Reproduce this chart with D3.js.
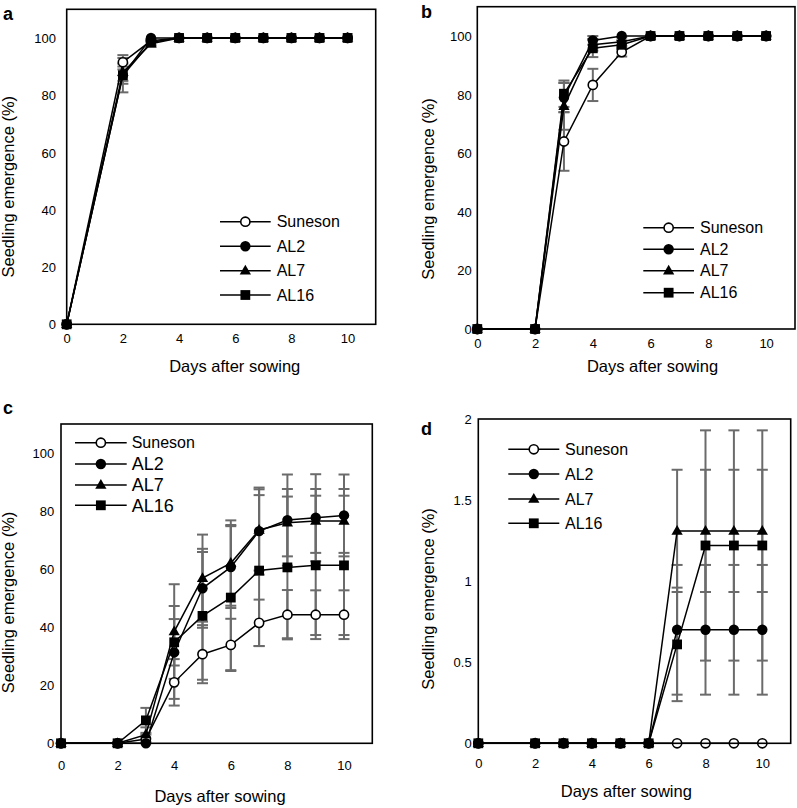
<!DOCTYPE html>
<html>
<head>
<meta charset="utf-8">
<script src="https://cdn.jsdelivr.net/npm/d3@7"></script>
<style>
  html, body { margin: 0; padding: 0; background: #fff; }
  svg { display: block; font-family: "Liberation Sans", Arial, sans-serif; }
</style>
</head>
<body>
<svg id="chart" width="797" height="808"></svg>
<script>
// ---------------- DATA ----------------
const days = [0, 2, 3, 4, 5, 6, 7, 8, 9, 10];
const seriesNames = ["Suneson", "AL2", "AL7", "AL16"];
const xTicks = [0, 2, 4, 6, 8, 10];
const yTicksPct = [0, 20, 40, 60, 80, 100];
const yTicksD = [0, 0.5, 1, 1.5, 2];
const yTickLabelsD = ["0", "0.5", "1", "1.5", "2"];
const panelLetters = ["a", "b", "c", "d"];
const xTitle = "Days after sowing";
const yTitle = "Seedling emergence (%)";

// Panel a
const sunesonA = [0, 91.5, 99, 100, 100, 100, 100, 100, 100, 100];
const sunesonAErr = [0, 2.5, 0.5, 0, 0, 0, 0, 0, 0, 0];
const al2A = [0, 87, 100, 100, 100, 100, 100, 100, 100, 100];
const al2AErr = [0, 3, 0, 0, 0, 0, 0, 0, 0, 0];
const al7A = [0, 88, 98, 100, 100, 100, 100, 100, 100, 100];
const al7AErr = [0, 3, 1, 0, 0, 0, 0, 0, 0, 0];
const al16A = [0, 87, 98.5, 100, 100, 100, 100, 100, 100, 100];
const al16AErr = [0, 6, 1, 0, 0, 0, 0, 0, 0, 0];

// Panel b
const sunesonB = [0, 0, 64, 83.3, 94.5, 100, 100, 100, 100, 100];
const sunesonBErr = [0, 0, 10, 5.5, 1.5, 0, 0, 0, 0, 0];
const al2B = [0, 0, 79, 98.5, 100, 100, 100, 100, 100, 100];
const al2BErr = [0, 0, 5, 1.5, 0, 0, 0, 0, 0, 0];
const al7B = [0, 0, 76, 97, 98, 100, 100, 100, 100, 100];
const al7BErr = [0, 0, 8, 2, 1.5, 0, 0, 0, 0, 0];
const al16B = [0, 0, 80.3, 95.8, 97, 100, 100, 100, 100, 100];
const al16BErr = [0, 0, 4.5, 3, 1.5, 0, 0, 0, 0, 0];

// Panel c
const sunesonC = [0, 0, 1.5, 21, 30.7, 33.9, 41.5, 44.3, 44.3, 44.3];
const sunesonCErr = [0, 0, 1.5, 8, 10, 9, 8, 8.5, 8.4, 8.4];
const al2C = [0, 0, 0, 31.3, 53.4, 60.7, 73.1, 76.9, 77.7, 78.5];
const al2CErr = [0, 0, 0, 16, 13.6, 14.1, 15, 15.7, 15, 14.1];
const al7C = [0, 0, 3, 38.5, 56.9, 62.1, 73.5, 76, 76.6, 76.6];
const al7CErr = [0, 0, 2.5, 16.3, 15, 14.7, 14, 11.6, 11, 11];
const al16C = [0, 0, 7.9, 34.8, 43.9, 50.2, 59.5, 60.6, 61.3, 61.3];
const al16CErr = [0, 0, 4.3, 8, 22, 25, 26, 24.4, 24, 24];

// Panel d
const sunesonD = [0, 0, 0, 0, 0, 0, 0, 0, 0, 0];
const sunesonDErr = [0, 0, 0, 0, 0, 0, 0, 0, 0, 0];
const al2D = [0, 0, 0, 0, 0, 0, 0.70, 0.70, 0.70, 0.70];
const al2DErr = [0, 0, 0, 0, 0, 0, 0.40, 0.40, 0.40, 0.40];
const al7D = [0, 0, 0, 0, 0, 0, 1.31, 1.31, 1.31, 1.31];
const al7DErr = [0, 0, 0, 0, 0, 0, 0.377, 0.377, 0.377, 0.377];
const al16D = [0, 0, 0, 0, 0, 0, 0.61, 1.22, 1.22, 1.22];
const al16DErr = [0, 0, 0, 0, 0, 0, 0.35, 0.71, 0.71, 0.71];

// ---------------- LAYOUT ----------------
const panels = [
  { letter: panelLetters[0], box: { l: 66.7, t: 9.3, r: 375.7, b: 324.3 }, yMax: 110,
    yTicks: yTicksPct, yLabels: yTicksPct.map(String),
    values: [sunesonA, al2A, al7A, al16A], errs: [sunesonAErr, al2AErr, al7AErr, al16AErr],
    yPad: 10.7, xLabBase: 343.5, letterPos: [3, 19.5],
    xTitlePos: [234.7, 371.5], yTitlePos: [14, 186.7],
    legend: { x1: 220, x2: 270.7, tx: 276.7, ys: [221.7, 246.2, 270.7, 295], sizes: [16, 16, 16, 16] } },
  { letter: panelLetters[1], box: { l: 477.3, t: 6.7, r: 795, b: 329 }, yMax: 110,
    yTicks: yTicksPct, yLabels: yTicksPct.map(String),
    values: [sunesonB, al2B, al7B, al16B], errs: [sunesonBErr, al2BErr, al7BErr, al16BErr],
    yPad: 5.6, xLabBase: 348.3, letterPos: [421, 18.3],
    xTitlePos: [652.5, 371.5], yTitlePos: [434, 189],
    legend: { x1: 643.3, x2: 694, tx: 700, ys: [227.7, 249.3, 270.7, 292.7], sizes: [16, 16, 16, 16] } },
  { letter: panelLetters[2], box: { l: 61, t: 424, r: 372.3, b: 743.3 }, yMax: 110,
    yTicks: yTicksPct, yLabels: yTicksPct.map(String),
    values: [sunesonC, al2C, al7C, al16C], errs: [sunesonCErr, al2CErr, al7CErr, al16CErr],
    yPad: 6.7, xLabBase: 770, letterPos: [3, 413.5],
    xTitlePos: [220, 801.5], yTitlePos: [14, 602.5],
    legend: { x1: 75, x2: 126.7, tx: 131.7, ys: [442.7, 464, 485, 505.3], sizes: [16, 18, 18, 18] } },
  { letter: panelLetters[3], box: { l: 478.3, t: 419, r: 790.7, b: 743.3 }, yMax: 2,
    yTicks: yTicksD, yLabels: yTickLabelsD,
    values: [sunesonD, al2D, al7D, al16D], errs: [sunesonDErr, al2DErr, al7DErr, al16DErr],
    yPad: 6.7, xLabBase: 768.3, letterPos: [421, 435],
    xTitlePos: [626.3, 796.5], yTitlePos: [434, 599],
    legend: { x1: 508.3, x2: 559.3, tx: 565, ys: [449.3, 474, 499, 523.3], sizes: [16, 16, 16, 16] } }
];

const svg = d3.select("#chart");
const errColor = "#6b6b6b";

function drawMarker(g, k, cx, cy) {
  if (k === 0) {
    g.append("circle").attr("cx", cx).attr("cy", cy).attr("r", 4.6)
      .attr("fill", "#fff").attr("stroke", "#000").attr("stroke-width", 1.6);
  } else if (k === 1) {
    g.append("circle").attr("cx", cx).attr("cy", cy).attr("r", 5.2).attr("fill", "#000");
  } else if (k === 2) {
    g.append("path").attr("d", d3.symbol(d3.symbolTriangle, 55)())
      .attr("transform", `translate(${cx},${cy + 0.5})`).attr("fill", "#000");
  } else {
    g.append("path").attr("d", d3.symbol(d3.symbolSquare, 96)())
      .attr("transform", `translate(${cx},${cy})`).attr("fill", "#000");
  }
}

panels.forEach(p => {
  const g = svg.append("g");
  const x = d3.scaleLinear().domain([0, 11]).range([p.box.l, p.box.r]);
  const y = d3.scaleLinear().domain([0, p.yMax]).range([p.box.b, p.box.t]);
  if (p.yMax === 2) y.domain([0, 2]).range([p.box.b, p.box.t]);

  // axes (labels only)
  const yAxis = g.append("g").attr("transform", `translate(${p.box.l},0)`)
    .call(d3.axisLeft(y).tickValues(p.yTicks).tickFormat((d, i) => p.yLabels[i])
      .tickSize(0).tickPadding(p.yPad));
  yAxis.select(".domain").remove();
  yAxis.selectAll("text").attr("font-size", 13).attr("font-family", "Liberation Sans, Arial, sans-serif")
    .attr("fill", "#000").attr("dy", "0.35em");

  const xAxis = g.append("g").attr("transform", `translate(0,${p.box.b})`)
    .call(d3.axisBottom(x).tickValues(xTicks).tickSize(0));
  xAxis.select(".domain").remove();
  xAxis.selectAll("text").attr("font-size", 13).attr("font-family", "Liberation Sans, Arial, sans-serif")
    .attr("fill", "#000").attr("dy", null).attr("y", p.xLabBase - p.box.b);

  // titles
  g.append("text").attr("x", p.xTitlePos[0]).attr("y", p.xTitlePos[1])
    .attr("text-anchor", "middle").attr("font-size", 16.5).text(xTitle);
  g.append("text").attr("transform", `translate(${p.yTitlePos[0]},${p.yTitlePos[1]}) rotate(-90)`)
    .attr("text-anchor", "middle").attr("font-size", 16.5).text(yTitle);
  g.append("text").attr("x", p.letterPos[0]).attr("y", p.letterPos[1])
    .attr("font-size", 18).attr("font-weight", "bold").text(p.letter);

  // error bars
  const eb = g.append("g");
  p.values.forEach((vals, k) => {
    vals.forEach((v, i) => {
      const e = p.errs[k][i];
      if (!e) return;
      const cx = x(days[i]);
      const y1 = y(v + e), y2 = y(Math.max(0, v - e));
      eb.append("line").attr("x1", cx).attr("x2", cx).attr("y1", y1).attr("y2", y2)
        .attr("stroke", errColor).attr("stroke-width", 2);
      [y1, y2].forEach(yy => eb.append("line").attr("x1", cx - 5.5).attr("x2", cx + 5.5)
        .attr("y1", yy).attr("y2", yy).attr("stroke", errColor).attr("stroke-width", 2));
    });
  });

  // lines
  const line = d3.line().x((d, i) => x(days[i])).y(d => y(d));
  p.values.forEach((vals, k) => {
    g.append("path").attr("d", line(vals)).attr("fill", "none")
      .attr("stroke", "#000").attr("stroke-width", 1.5);
  });

  // markers
  p.values.forEach((vals, k) => {
    const mg = g.append("g");
    vals.forEach((v, i) => drawMarker(mg, k, x(days[i]), y(v)));
  });

  // frame
  g.append("rect").attr("x", p.box.l).attr("y", p.box.t)
    .attr("width", p.box.r - p.box.l).attr("height", p.box.b - p.box.t)
    .attr("fill", "none").attr("stroke", "#000").attr("stroke-width", 1.6);

  // legend
  const L = p.legend;
  seriesNames.forEach((name, k) => {
    const yy = L.ys[k];
    g.append("line").attr("x1", L.x1).attr("x2", L.x2).attr("y1", yy).attr("y2", yy)
      .attr("stroke", "#000").attr("stroke-width", 1.5);
    drawMarker(g, k, (L.x1 + L.x2) / 2, yy);
    g.append("text").attr("x", L.tx).attr("y", yy).attr("dy", "0.36em")
      .attr("font-size", L.sizes[k]).text(name);
  });
});
</script>
</body>
</html>
